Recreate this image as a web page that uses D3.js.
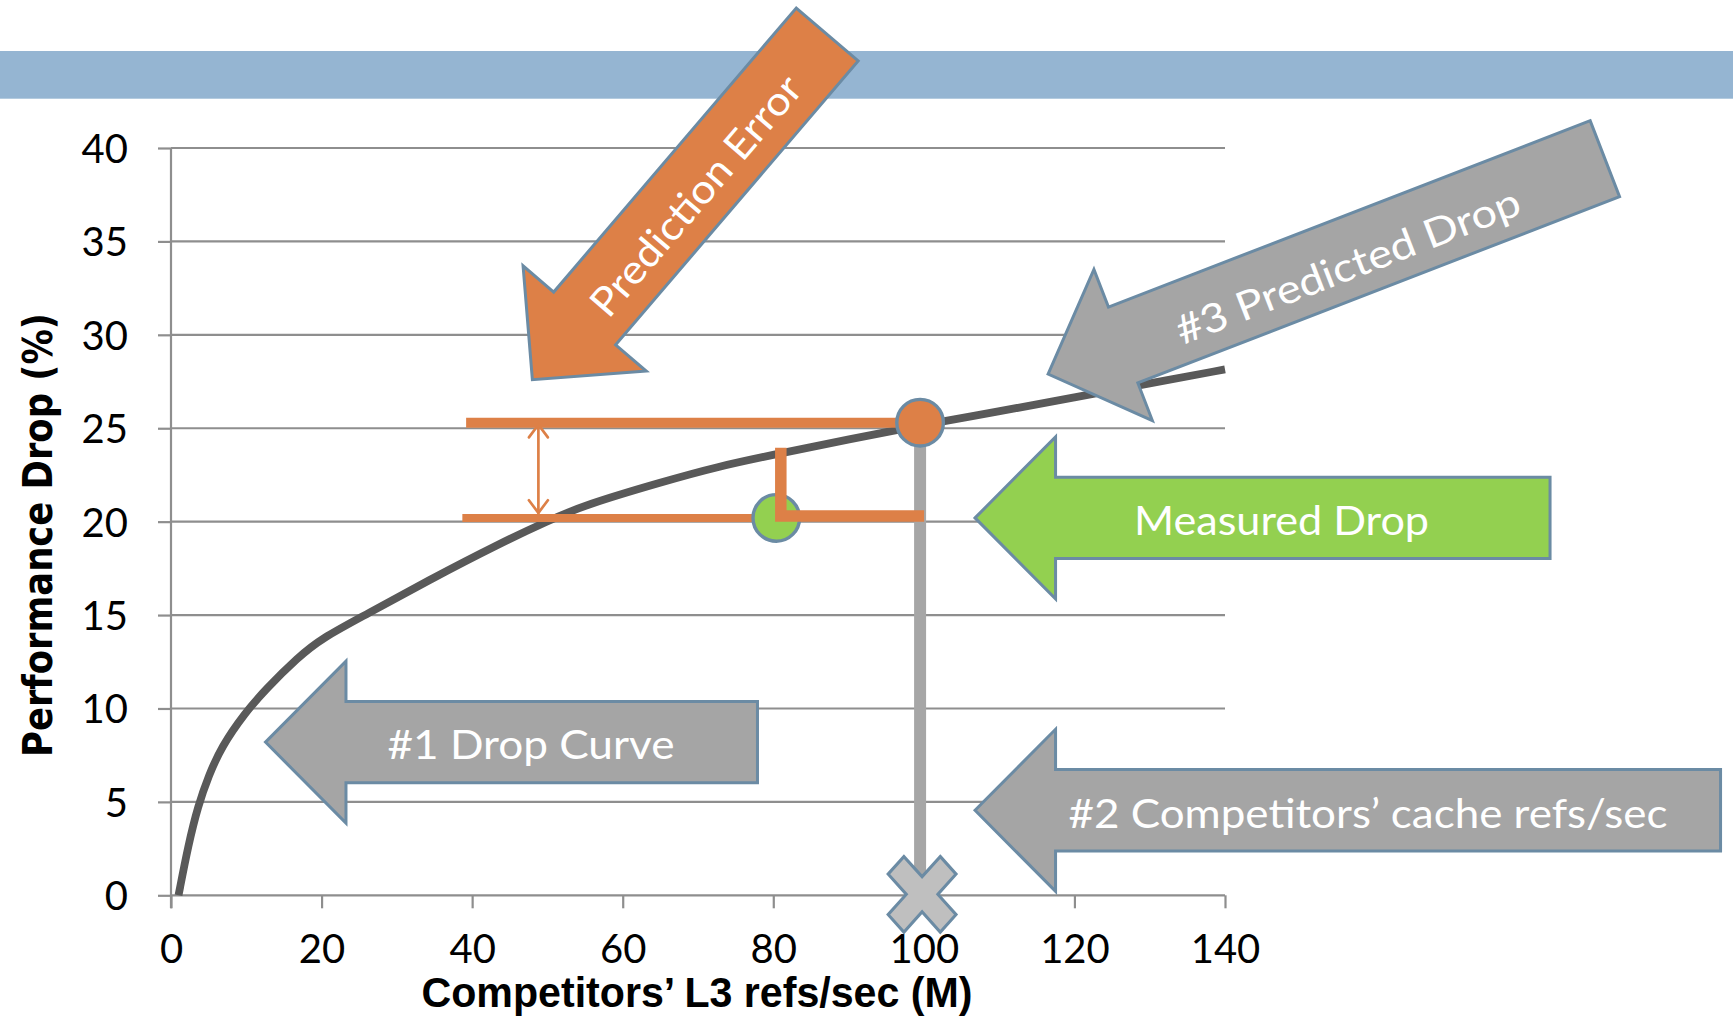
<!DOCTYPE html>
<html>
<head>
<meta charset="utf-8">
<script src="https://cdn.jsdelivr.net/npm/d3@7"></script>
<style>
  html, body { margin: 0; padding: 0; background: #ffffff; }
  svg { display: block; }
</style>
</head>
<body>
<script>
// ---- data -------------------------------------------------------------
// Drop curve: competitors' L3 refs/sec (millions) vs. performance drop (%)
const curveRefs = [1, 2.3, 3.6, 5, 6.7, 9.8, 12.5, 16.9, 20, 25.8, 34.6, 43.5, 50.1, 55, 65, 72.6, 81, 90, 99.4, 110, 120, 130, 140];
const curveDrop = [0, 2.7, 4.8, 6.4, 7.95, 9.75, 11.0, 12.75, 13.75, 15.0, 16.95, 18.8, 20.05, 20.9, 22.1, 22.95, 23.66, 24.4, 25.15, 25.9, 26.65, 27.4, 28.15];

const xTicks = [0, 20, 40, 60, 80, 100, 120, 140];
const yTicks = [0, 5, 10, 15, 20, 25, 30, 35, 40];

// operating point: competitors' cache refs/sec, predicted and measured drop
const competitorRefs = [99.5];
const predictedDrop = [25.3];
const measuredRefs = [80.4];
const measuredDrop = [20.2];

// prediction-error bracket (start of the guide lines, and the span arrow)
const guideStartRefs = [39.2, 38.7];
const errorArrowRefs = [48.8];

// callout labels
const calloutLabels = ["#1 Drop Curve", "Measured Drop", "#2 Competitors\u2019 cache refs/sec", "#3 Predicted Drop", "Prediction Error"];

// ---- layout -----------------------------------------------------------
const W = 1733, H = 1019;
const x = d3.scaleLinear().domain([0, 140]).range([171, 1225]);
const y = d3.scaleLinear().domain([0, 40]).range([895.3, 148]);

const ORANGE = "#DD8047", GREEN = "#93D050", GRAY = "#A5A5A5", EDGE = "#6B8BA4";
const GRID = "#8E8E8E", CURVE = "#595959";
const FONT = "Lato, 'Noto Sans', sans-serif";

const svg = d3.select("body").append("svg")
  .attr("width", W).attr("height", H).attr("viewBox", `0 0 ${W} ${H}`);

// title band
svg.append("rect").attr("x", 0).attr("y", 51).attr("width", W).attr("height", 47.7)
  .attr("fill", "#95B5D2");

// gridlines
svg.append("g").selectAll("line").data(yTicks).join("line")
  .attr("x1", x(0)).attr("x2", x(140))
  .attr("y1", d => y(d)).attr("y2", d => y(d))
  .attr("stroke", GRID).attr("stroke-width", 2.2);

// axes
const xAxis = svg.append("g").attr("transform", `translate(0,${y(0)})`)
  .call(d3.axisBottom(x).tickValues(xTicks).tickSize(13).tickSizeOuter(0).tickPadding(26).tickFormat(d3.format("d")));
const yAxis = svg.append("g").attr("transform", `translate(${x(0)},0)`)
  .call(d3.axisLeft(y).tickValues(yTicks).tickSize(13).tickSizeOuter(0).tickPadding(30).tickFormat(d3.format("d")));
[xAxis, yAxis].forEach(g => {
  g.select(".domain").remove();
  g.selectAll(".tick line").attr("stroke", GRID).attr("stroke-width", 2.2);
  g.selectAll(".tick text").attr("font-family", FONT).attr("font-size", 40).attr("fill", "#000");
});
yAxis.selectAll(".tick text").attr("dy", "0.36em");
// vertical axis line
svg.append("line").attr("x1", x(0)).attr("x2", x(0)).attr("y1", y(40)).attr("y2", y(0) + 13)
  .attr("stroke", GRID).attr("stroke-width", 2.2);

// axis titles
svg.append("text").attr("x", 697).attr("y", 1007)
  .attr("text-anchor", "middle").attr("font-family", "'Liberation Sans Narrow', 'Liberation Sans', Arial, sans-serif")
  .attr("font-weight", "bold").attr("font-size", 43)
  .attr("textLength", 551).attr("lengthAdjust", "spacingAndGlyphs")
  .text("Competitors\u2019 L3 refs/sec (M)");
svg.append("text").attr("transform", "translate(52,535) rotate(-90)")
  .attr("text-anchor", "middle").attr("font-family", "'DejaVu Sans', sans-serif")
  .attr("font-weight", "bold").attr("font-size", 40)
  .attr("textLength", 444).attr("lengthAdjust", "spacingAndGlyphs")
  .text("Performance Drop (%)");

// drop curve
const curvePts = curveRefs.map((r, i) => [r, curveDrop[i]]);
svg.append("path").datum(curvePts)
  .attr("d", d3.line().x(d => x(d[0])).y(d => y(d[1])).curve(d3.curveBasis))
  .attr("fill", "none").attr("stroke", CURVE).attr("stroke-width", 7.8).attr("stroke-linecap", "butt");

// gray drop line from predicted point down to the axis
svg.append("line").attr("x1", x(competitorRefs[0])).attr("x2", x(competitorRefs[0]))
  .attr("y1", y(predictedDrop[0])).attr("y2", y(0))
  .attr("stroke", "#A6A6A6").attr("stroke-width", 12);

// orange guide lines marking the predicted and measured levels
svg.append("line").attr("x1", x(guideStartRefs[0])).attr("x2", x(competitorRefs[0]))
  .attr("y1", y(predictedDrop[0])).attr("y2", y(predictedDrop[0]))
  .attr("stroke", ORANGE).attr("stroke-width", 10);
svg.append("line").attr("x1", x(guideStartRefs[1])).attr("x2", x(measuredRefs[0]))
  .attr("y1", y(measuredDrop[0])).attr("y2", y(measuredDrop[0]))
  .attr("stroke", ORANGE).attr("stroke-width", 8);

// double-headed span arrow for the prediction error
{
  const ax = x(errorArrowRefs[0]);
  const yt = y(predictedDrop[0]) + 2, yb = y(measuredDrop[0]) - 5;
  const g = svg.append("g").attr("stroke", ORANGE).attr("stroke-width", 2.7).attr("fill", "none")
    .attr("stroke-linecap", "round");
  g.append("line").attr("x1", ax).attr("x2", ax).attr("y1", yt).attr("y2", yb);
  g.append("polyline").attr("points", `${ax - 9.5},${yt + 12.7} ${ax},${yt} ${ax + 9.5},${yt + 12.7}`);
  g.append("polyline").attr("points", `${ax - 9.5},${yb - 12.7} ${ax},${yb} ${ax + 9.5},${yb - 12.7}`);
}

// measured point
svg.append("circle").attr("cx", x(measuredRefs[0])).attr("cy", y(measuredDrop[0])).attr("r", 23.3)
  .attr("fill", GREEN).attr("stroke", EDGE).attr("stroke-width", 3.4);

// L-shaped connector from the curve down to the measured level
{
  const lx = x(measuredRefs[0] + 0.6);
  const ly = y(measuredDrop[0] + 0.1);
  svg.append("path")
    .attr("d", `M${lx},${y(23.95)} L${lx},${ly} L${x(competitorRefs[0]) + 4},${ly}`)
    .attr("fill", "none").attr("stroke", ORANGE).attr("stroke-width", 11.5).attr("stroke-linejoin", "miter");
}

// predicted point
svg.append("circle").attr("cx", x(competitorRefs[0])).attr("cy", y(predictedDrop[0])).attr("r", 23.3)
  .attr("fill", ORANGE).attr("stroke", EDGE).attr("stroke-width", 3.4);

// X marker on the axis
{
  const a = 38, w = 11.5;
  const plus = [[-w,-a],[w,-a],[w,-w],[a,-w],[a,w],[w,w],[w,a],[-w,a],[-w,w],[-a,w],[-a,-w],[-w,-w]];
  svg.append("polygon")
    .attr("points", plus.map(p => p.join(",")).join(" "))
    .attr("transform", `translate(${x(competitorRefs[0]) + 2},${y(0) - 1}) scale(0.97,1.08) rotate(45)`)
    .attr("fill", "#BFBFBF").attr("stroke", EDGE).attr("stroke-width", 3);
}

// block-arrow callouts; tip at the origin, tail toward +x
function arrowPath(len, headLen, headHalf, shaftHalf) {
  return `M0,0 L${headLen},${-headHalf} L${headLen},${-shaftHalf} L${len},${-shaftHalf} ` +
         `L${len},${shaftHalf} L${headLen},${shaftHalf} L${headLen},${headHalf} Z`;
}
const callouts = [
  { label: calloutLabels[0], tip: [12.55, 8.2],  angle: 0,      len: 492,   fill: GRAY,   textAt: 265.5, textOff: 2,   textLen: 287 },
  { label: calloutLabels[1], tip: [106.8, 20.2], angle: 0,      len: 575,   fill: GREEN,  textAt: 306.5, textOff: 3,   textLen: 295 },
  { label: calloutLabels[2], tip: [106.8, 4.55], angle: 0,      len: 745.5, fill: GRAY,   textAt: 393,   textOff: 3,   textLen: 599 },
  { label: calloutLabels[3], tip: [116.5, 27.9], angle: -21.15, len: 597,   fill: GRAY,   textAt: 318.6, textOff: 7,   textLen: 366 },
  { label: calloutLabels[4], tip: [48.0, 27.6],  angle: -49.5,  len: 454,   fill: ORANGE, textAt: 246,   textOff: 4.4, textLen: 302 }
];
callouts.forEach(c => {
  const g = svg.append("g")
    .attr("transform", `translate(${x(c.tip[0])},${y(c.tip[1])}) rotate(${c.angle})`);
  g.append("path").attr("d", arrowPath(c.len, 80.5, 81, 40.7))
    .attr("fill", c.fill).attr("stroke", EDGE).attr("stroke-width", 3).attr("stroke-linejoin", "miter");
  g.append("text").attr("x", c.textAt).attr("y", c.textOff + 14.5)
    .attr("text-anchor", "middle").attr("font-family", FONT).attr("font-size", 40)
    .attr("fill", "#ffffff")
    .attr("textLength", c.textLen).attr("lengthAdjust", "spacingAndGlyphs")
    .text(c.label);
});
</script>
</body>
</html>
